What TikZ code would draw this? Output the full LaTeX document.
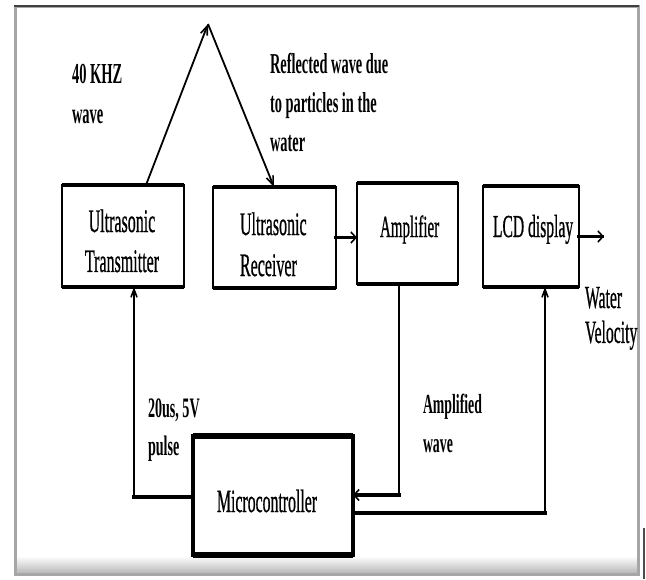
\documentclass[tikz,border=0pt]{standalone}
\usepackage{fontspec}
\setmainfont{Liberation Serif}
\newfontfamily\heavyfont{Liberation Serif}[FakeBold=1.0]
\usepackage{graphicx}
\usetikzlibrary{arrows.meta,calc}
\newcommand\vstack[5]{\scalebox{1}[#1]{\fontsize{#2}{#3}\selectfont\begin{tabular}[t]{@{}#4@{}}#5\end{tabular}}}
\begin{document}
\begin{tikzpicture}[x=1pt,y=-1pt,
  box/.style={rectangle,draw=none,inner sep=0pt,outer sep=0pt},
  lbl/.style={inner sep=0pt,outer sep=0pt,font=\heavyfont},
  bl/.style={inner sep=0pt,outer sep=0pt,font=\bfseries},
  hl/.style={line width=3.2pt,line cap=rect},
  vl/.style={line width=1.8pt},
  dl/.style={line width=1.8pt},
  tipH/.style={-{Straight Barb[length=5pt,width=11pt,line width=1.6pt]}},
  tipV/.style={-{Straight Barb[length=8pt,width=6pt,line width=1.6pt]}},
  tipD/.style={-{Straight Barb[length=9pt,width=7pt,line width=1.6pt]}}]
\useasboundingbox (0,0) rectangle (646,579);
% frame
\shade[top color=white,bottom color=gray!55] (16,556) rectangle (637,573);
\draw[draw=gray!70,line width=3pt] (15,6) rectangle (638,574);
\draw[draw=black!75,line width=1.8pt] (14,6) -- (639,6);
\draw[draw=black!70,line width=1.2pt] (644,528) -- (644,579);
% boxes
\node[box,minimum width=122pt,minimum height=102pt] (tx) at (123,236) {};
\node[box,minimum width=123pt,minimum height=101pt] (rx) at (274.5,237.5) {};
\node[box,minimum width=101pt,minimum height=101pt] (amp) at (407.5,233.5) {};
\node[box,minimum width=96pt,minimum height=101pt] (lcd) at (531,236.5) {};
\node[box,minimum width=160pt,minimum height=119pt] (mc) at (273,495.5) {};
\foreach \n/\v/\h in {tx/1.8/4.2,rx/1.8/4.2,amp/1.8/4.2,lcd/1.8/4.2,mc/3.5/6.5}{
  \draw[line width=\v pt] (\n.north west) rectangle (\n.south east);
  \draw[line width=\h pt] (\n.north west) -- (\n.north east) (\n.south west) -- (\n.south east);
}
% box texts
\node[lbl,anchor=base] (txt) at (122,232) {\vstack{2.05}{16}{19.5}{c}{Ultrasonic\\Transmitter}};
\node[lbl,anchor=base west] (rxt) at (240,235) {\vstack{2.05}{16}{20}{l}{Ultrasonic\\Receiver}};
\node[lbl,anchor=base west] (ampt) at (380,237) {\vstack{2.05}{15}{19.5}{l}{Amplifier}};
\node[lbl,anchor=base west] (lcdt) at (493,237) {\vstack{2.05}{15.6}{19.5}{l}{LCD display}};
\node[lbl,anchor=base west] (mct) at (217,512) {\vstack{2.05}{15.8}{19.5}{l}{Microcontroller}};
% labels
\node[bl,anchor=base west] (l40) at (72,83) {\vstack{2.0}{14.5}{20}{l}{40 KHZ\\wave}};
\node[bl,anchor=base west] (lref) at (270,73) {\vstack{2.0}{14.4}{19.7}{l}{Reflected wave due\\to particles in the\\water}};
\node[bl,anchor=base west] (lpul) at (148,417) {\vstack{2.0}{14.1}{19}{l}{20us, 5V\\pulse}};
\node[bl,anchor=base west] (lamp) at (423,413) {\vstack{2.0}{13.8}{19.5}{l}{Amplified\\wave}};
\node[lbl,anchor=base west] (lwv) at (585,308) {\vstack{2.05}{15.7}{17}{l}{Water\\Velocity}};
% connectors
\coordinate (apex) at (208,24);
\draw[dl,tipD] ($(tx.north west)+(84,0)$) -- (apex);
\draw[dl,tipD] (apex) -- ($(rx.north west)+(61,0)$);
\draw[hl,tipH] (rx.east) -- (amp.west |- rx.east);
\coordinate (vout) at ($(lcd.east)+(25,0)$);
\draw[hl,tipH] (lcd.east) -- (vout);
\coordinate (c1) at (134,497);
\draw[hl] (mc.west |- c1) -- (c1);
\draw[vl,tipV] (c1) -- (tx.south -| c1);
\coordinate (c2) at (399,495);
\draw[vl] (amp.south -| c2) -- (c2);
\draw[hl,tipH] (c2) -- (mc.east |- c2);
\coordinate (c3) at (545,513);
\draw[hl] (mc.east |- c3) -- (c3);
\draw[vl,tipV] (c3) -- (lcd.south -| c3);
\end{tikzpicture}
\end{document}
